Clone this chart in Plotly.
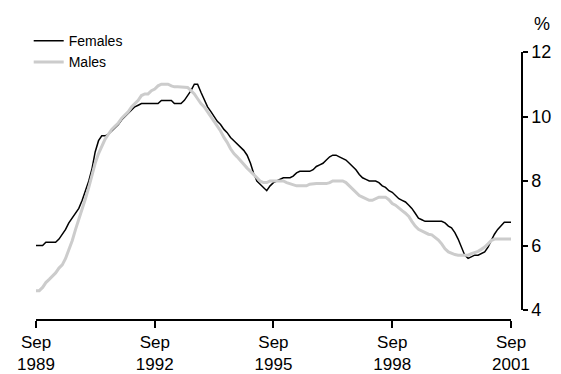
import pandas as pd
import plotly.graph_objects as go

# monthly series, Sep 1989 - Sep 2001
months = pd.date_range("1989-09-01", periods=145, freq="MS")

females = [
    6.0, 6.0, 6.0, 6.1, 6.1, 6.1, 6.1, 6.2, 6.35, 6.5, 6.7, 6.85,
    7.0, 7.15, 7.4, 7.7, 8.0, 8.4, 8.9, 9.25, 9.4, 9.4, 9.45, 9.55,
    9.65, 9.75, 9.9, 10.0, 10.1, 10.2, 10.3, 10.35, 10.4, 10.4, 10.4, 10.4,
    10.4, 10.4, 10.5, 10.5, 10.5, 10.5, 10.4, 10.4, 10.4, 10.5, 10.65, 10.8,
    11.0, 11.0, 10.75, 10.5, 10.3, 10.15, 10.0, 9.85, 9.75, 9.6, 9.5, 9.35,
    9.25, 9.15, 9.05, 8.95, 8.8, 8.55, 8.25, 8.0, 7.9, 7.8, 7.7, 7.85,
    7.95, 8.0, 8.05, 8.1, 8.1, 8.1, 8.15, 8.25, 8.3, 8.3, 8.3, 8.3,
    8.35, 8.45, 8.5, 8.55, 8.65, 8.75, 8.8, 8.8, 8.75, 8.7, 8.65, 8.55,
    8.45, 8.35, 8.2, 8.1, 8.05, 8.0, 8.0, 8.0, 7.95, 7.85, 7.8, 7.7,
    7.65, 7.55, 7.45, 7.4, 7.35, 7.25, 7.15, 7.0, 6.85, 6.8, 6.75, 6.75,
    6.75, 6.75, 6.75, 6.75, 6.7, 6.6, 6.55, 6.4, 6.2, 5.95, 5.7, 5.6,
    5.65, 5.7, 5.7, 5.75, 5.8, 5.95, 6.15, 6.35, 6.5, 6.6, 6.72, 6.72,
    6.72,
]

males = [
    4.6, 4.6, 4.7, 4.85, 4.95, 5.05, 5.15, 5.3, 5.4, 5.6, 5.85, 6.15,
    6.5, 6.8, 7.1, 7.45, 7.8, 8.2, 8.55, 8.85, 9.1, 9.3, 9.45, 9.6,
    9.7, 9.8, 9.95, 10.05, 10.15, 10.3, 10.4, 10.5, 10.65, 10.7, 10.7, 10.8,
    10.85, 10.95, 11.0, 11.0, 11.0, 10.95, 10.92, 10.92, 10.92, 10.92, 10.9, 10.8,
    10.7, 10.55, 10.4, 10.3, 10.15, 10.0, 9.85, 9.7, 9.55, 9.35, 9.2, 9.0,
    8.85, 8.75, 8.62, 8.5, 8.4, 8.3, 8.2, 8.1, 8.0, 7.95, 7.95, 8.0,
    8.0, 8.0, 8.0, 8.0, 7.95, 7.92, 7.88, 7.85, 7.85, 7.85, 7.85, 7.9,
    7.92, 7.92, 7.92, 7.92, 7.92, 7.95, 8.0, 8.0, 8.0, 8.0, 7.95, 7.85,
    7.75, 7.65, 7.55, 7.5, 7.45, 7.4, 7.4, 7.45, 7.5, 7.5, 7.5, 7.42,
    7.3, 7.25, 7.15, 7.08, 7.0, 6.9, 6.75, 6.6, 6.5, 6.45, 6.4, 6.35,
    6.33, 6.25, 6.17, 6.05, 5.9, 5.8, 5.75, 5.72, 5.7, 5.7, 5.7, 5.7,
    5.75, 5.78, 5.82, 5.88, 5.95, 6.05, 6.15, 6.2, 6.2, 6.2, 6.2, 6.2,
    6.2,
]

tick_dates = ["1989-09-01", "1992-09-01", "1995-09-01", "1998-09-01", "2001-09-01"]
tick_text = ["Sep<br>1989", "Sep<br>1992", "Sep<br>1995", "Sep<br>1998", "Sep<br>2001"]
y_ticks = [4, 6, 8, 10, 12]

fig = go.Figure()
fig.add_trace(go.Scatter(x=months, y=females, name="Females", mode="lines",
                         line=dict(color="black", width=1.5)))
fig.add_trace(go.Scatter(x=months, y=males, name="Males", mode="lines",
                         line=dict(color="#cccccc", width=3)))

# page body has an 8px margin, so the figure is 8px smaller than the window
fig.update_layout(
    width=553, height=366,
    margin=dict(l=28, r=39, t=44, b=54, autoexpand=False),
    paper_bgcolor="white", plot_bgcolor="white",
    font=dict(family="Liberation Sans, Arial, sans-serif", size=18, color="black"),
    showlegend=True,
    legend=dict(x=-0.015, y=1.10, xanchor="left", yanchor="top",
                font=dict(size=14), bgcolor="rgba(0,0,0,0)",
                tracegroupgap=0, itemwidth=30),
    xaxis=dict(
        domain=[0, 0.9774], range=[months[0], months[-1]],
        tickvals=tick_dates, ticktext=tick_text, tickfont=dict(size=17),
        showline=True, linecolor="black", linewidth=1.5,
        ticks="outside", ticklen=7, tickcolor="black", tickwidth=1.5,
        showgrid=False, zeroline=False, anchor="free", position=0,
        automargin=False,
    ),
    yaxis=dict(
        domain=[0.0373, 1], range=[4, 12], tickvals=y_ticks,
        side="right", anchor="free", position=1,
        showline=True, linecolor="black", linewidth=1.5,
        ticks="outside", ticklen=5, tickcolor="black", tickwidth=1.5,
        showgrid=False, zeroline=False, automargin=False,
    ),
)

fig.add_annotation(text="%", xref="paper", yref="paper", x=1, y=1,
                   xanchor="left", yanchor="bottom", xshift=10, yshift=16,
                   showarrow=False, font=dict(size=18))

fig.write_html("out.html")
